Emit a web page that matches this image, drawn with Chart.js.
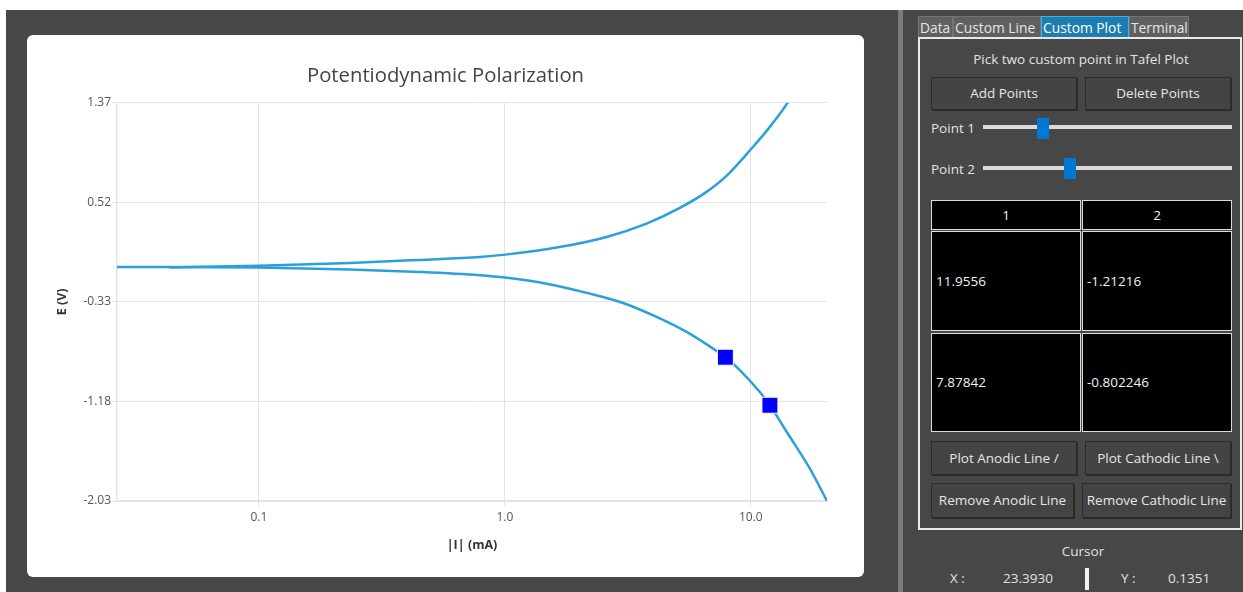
<!DOCTYPE html>
<html>
<head>
<meta charset="utf-8">
<script src="https://cdn.jsdelivr.net/npm/chart.js@4/dist/chart.umd.min.js"></script>
<style>
  body { margin: 0; width: 1243px; height: 592px; background: #fff; position: relative; overflow: hidden;
         font-family: "Open Sans", "Noto Sans", sans-serif; }
  .abs { position: absolute; box-sizing: border-box; }
  #leftPane { left: 6px; top: 10px; width: 892px; height: 582px; background: #474747; }
  #sep { left: 898px; top: 10px; width: 5px; height: 582px; background: #7a7a7a; }
  #rightPane { left: 903px; top: 10px; width: 340px; height: 582px; background: #474747; }
  #card { left: 27px; top: 35px; width: 837px; height: 542px; background: #fff; border-radius: 6px; }
  #card canvas { position: absolute; left: 0; top: 0; }
  .tab { top: 16px; height: 22px; background: #606060; border: 1px solid #747474; color: #e6e6e6;
         font-size: 13.8px; line-height: 22px; padding-left: 1px; white-space: nowrap; overflow: hidden; }
  .tab.sel { background: #1c7db0; border-color: #45b0e6; color: #fff; }
  #frame { left: 918px; top: 37px; width: 324px; height: 493px; border: 2px solid #e9e9e9; }
  .txt { color: #e2e2e2; font-size: 13.5px; white-space: nowrap; }
  .btn { background: #444; border: 1px solid #2c2c2c; box-shadow: 1px 1px 0 #2a2a2a; color: #e6e6e6;
         font-size: 13.5px; text-align: center; white-space: nowrap; }
  .track { height: 4px; background: #dadada; }
  .thumb { width: 12px; height: 21px; background: #0078d7; }
  .cell { background: #000; border: 1px solid #dcdcdc; color: #f2f2f2; font-size: 13.5px; white-space: nowrap; }
</style>
</head>
<body>
<div class="abs" id="leftPane"></div>
<div class="abs" id="sep"></div>
<div class="abs" id="rightPane"></div>
<div class="abs" id="card"><canvas id="chart" width="837" height="542"></canvas></div>

<div class="abs tab" style="left:918px;width:35px;">Data</div>
<div class="abs tab" style="left:953px;width:88px;">Custom Line</div>
<div class="abs tab sel" style="left:1041px;width:88px;">Custom Plot</div>
<div class="abs tab" style="left:1129px;width:60px;">Terminal</div>
<div class="abs" id="frame"></div>

<div class="abs txt" style="left:931px;width:300px;top:50px;text-align:center;">Pick two custom point in Tafel Plot</div>
<div class="abs btn" style="left:931px;top:77px;width:146px;height:33px;line-height:31px;">Add Points</div>
<div class="abs btn" style="left:1085px;top:77px;width:146px;height:33px;line-height:31px;">Delete Points</div>

<div class="abs txt" style="left:931px;top:119px;">Point 1</div>
<div class="abs track" style="left:983px;top:125px;width:249px;"></div>
<div class="abs thumb" style="left:1037px;top:118px;"></div>
<div class="abs txt" style="left:931px;top:160px;">Point 2</div>
<div class="abs track" style="left:983px;top:166px;width:249px;"></div>
<div class="abs thumb" style="left:1064px;top:158px;"></div>

<div class="abs cell" style="left:931px;top:200px;width:150px;height:30px;line-height:28px;text-align:center;">1</div>
<div class="abs cell" style="left:1082px;top:200px;width:150px;height:30px;line-height:28px;text-align:center;">2</div>
<div class="abs cell" style="left:931px;top:231px;width:150px;height:100px;line-height:98px;padding-left:4px;" id="c11"></div>
<div class="abs cell" style="left:1082px;top:231px;width:150px;height:100px;line-height:98px;padding-left:4px;" id="c12"></div>
<div class="abs cell" style="left:931px;top:333px;width:150px;height:99px;line-height:97px;padding-left:4px;" id="c21"></div>
<div class="abs cell" style="left:1082px;top:333px;width:150px;height:99px;line-height:97px;padding-left:4px;" id="c22"></div>

<div class="abs btn" style="left:931px;top:441px;width:146px;height:34px;line-height:32px;">Plot Anodic Line /</div>
<div class="abs btn" style="left:1085px;top:441px;width:146px;height:34px;line-height:32px;">Plot Cathodic Line \</div>
<div class="abs btn" style="left:931px;top:483px;width:143px;height:35px;line-height:33px;">Remove Anodic Line</div>
<div class="abs btn" style="left:1082px;top:483px;width:149px;height:35px;line-height:33px;">Remove Cathodic Line</div>

<div class="abs txt" style="left:1033px;width:100px;top:542px;text-align:center;">Cursor</div>
<div class="abs txt" style="left:950px;top:569px;">X :</div>
<div class="abs txt" style="left:1003px;top:569px;">23.3930</div>
<div class="abs" style="left:1085px;top:568px;width:4px;height:22px;background:#f2f2f2;"></div>
<div class="abs txt" style="left:1121px;top:569px;">Y :</div>
<div class="abs txt" style="left:1168px;top:569px;">0.1351</div>

<script>
// anodic branch: |I| (mA) and E (V)
var anodicI = [0.0434, 0.1, 0.234, 0.451, 0.791, 1.003, 1.623, 2.591, 3.767, 5.145, 6.607, 7.964, 10.07, 11.946, 14.18, 15.8];
var anodicE = [-0.035, -0.02, 0.003, 0.029, 0.054, 0.074, 0.134, 0.225, 0.339, 0.473, 0.610, 0.746, 0.980, 1.165, 1.379, 1.56];
// cathodic branch
var cathodicI = [0.0265, 0.1, 0.234, 0.451, 0.791, 1.003, 1.477, 2.216, 3.027, 4.138, 5.478, 7.027, 7.878, 8.747, 10.88, 11.956, 14.0, 17.38, 20.4];
var cathodicE = [-0.031, -0.036, -0.052, -0.074, -0.102, -0.122, -0.174, -0.259, -0.339, -0.458, -0.586, -0.729, -0.802, -0.885, -1.099, -1.212, -1.441, -1.754, -2.03];
// picked points
var pickI = [11.9556, 7.87842];
var pickE = [-1.21216, -0.802246];
// axis ticks
var xTicks = [0.1, 1, 10];
var yTicks = [-2.03, -1.18, -0.33, 0.52, 1.37];

document.getElementById('c11').textContent = pickI[0];
document.getElementById('c12').textContent = pickE[0];
document.getElementById('c21').textContent = pickI[1];
document.getElementById('c22').textContent = pickE[1];

var lineColor = '#2ba0dc';
var gridColor = '#e4e4e4';

var chart = new Chart('chart', {
  type: 'scatter',
  data: {
    datasets: [
      {
        data: pickI.map((v, i) => ({x: v, y: pickE[i]})),
        pointStyle: 'rect',
        pointRadius: 11.3,
        backgroundColor: '#0000ff',
        borderColor: '#ffffff',
        borderWidth: 1,
        showLine: false
      },
      {
        data: anodicI.map((v, i) => ({x: v, y: anodicE[i]})),
        showLine: true,
        borderColor: lineColor,
        borderWidth: 2.5,
        pointRadius: 0,
        cubicInterpolationMode: 'monotone'
      },
      {
        data: cathodicI.map((v, i) => ({x: v, y: cathodicE[i]})),
        showLine: true,
        borderColor: lineColor,
        borderWidth: 2.5,
        pointRadius: 0,
        cubicInterpolationMode: 'monotone'
      }
    ]
  },
  options: {
    responsive: false,
    animation: false,
    layout: { padding: { left: 10, right: 10, top: 0, bottom: 10 } },
    plugins: {
      legend: { display: false },
      tooltip: { enabled: false },
      title: {
        display: true,
        text: 'Potentiodynamic Polarization',
        color: '#454545',
        font: { family: 'Open Sans', size: 20.3, weight: 'normal' },
        padding: { top: 29.5, bottom: 14 }
      }
    },
    scales: {
      x: {
        type: 'logarithmic',
        min: 0.0265,
        max: 20.4,
        afterBuildTicks: s => { s.ticks = xTicks.map(v => ({value: v})); },
        afterFit: s => { s.height = 66; },
        ticks: {
          callback: v => Number(v).toFixed(1),
          color: '#555',
          font: { family: 'Open Sans', size: 12 },
          padding: 4,
          maxRotation: 0
        },
        grid: { color: gridColor, tickLength: 5 },
        border: { color: gridColor, width: 1.5 },
        title: {
          display: true,
          text: '|I| (mA)',
          color: '#333',
          font: { family: 'Open Sans', size: 12.5, weight: 'bold' },
          padding: { top: 4, bottom: 14 }
        }
      },
      y: {
        min: -2.03,
        max: 1.37,
        afterBuildTicks: s => { s.ticks = yTicks.map(v => ({value: v})); },
        afterFit: s => { s.width = 80; },
        ticks: {
          callback: v => Number(v).toFixed(2),
          color: '#555',
          font: { family: 'Open Sans', size: 12 },
          padding: 1
        },
        grid: { color: gridColor, tickLength: 5 },
        border: { color: gridColor, width: 1.5 },
        title: {
          display: true,
          text: 'E (V)',
          color: '#333',
          font: { family: 'Open Sans', size: 12.5, weight: 'bold' },
          padding: { top: 18, bottom: 4 }
        }
      },
      // empty right-hand gutter so the title centres on the card
      gutter: {
        position: 'right',
        afterFit: s => { s.width = 27; },
        ticks: { display: false },
        grid: { display: false },
        border: { display: false }
      }
    }
  }
});
</script>
</body>
</html>
